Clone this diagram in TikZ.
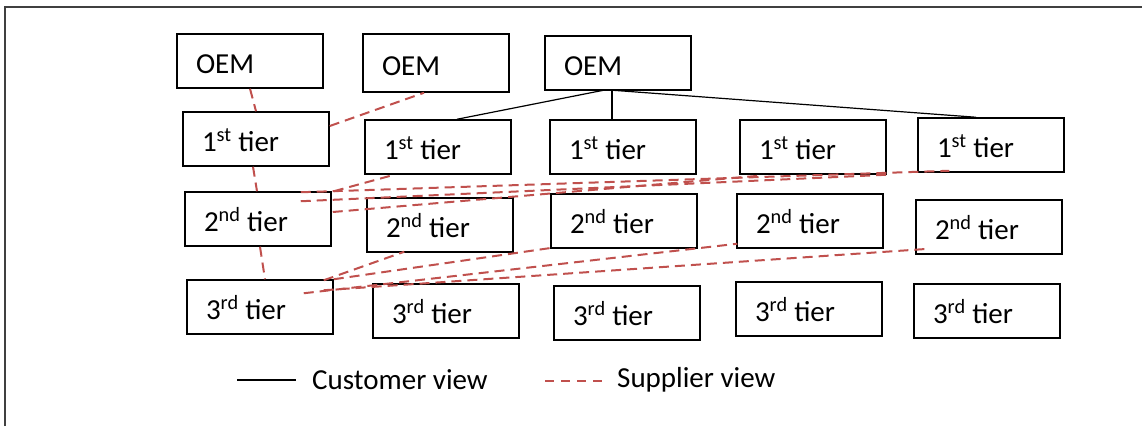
\documentclass[tikz,border=0pt]{standalone}
\usepackage{fontspec}
\setmainfont{Carlito}
\usetikzlibrary{calc}
\definecolor{suppred}{HTML}{C0504D}
\definecolor{framegray}{HTML}{404040}
\tikzset{
  tierbox/.style={draw=black, line width=1.5pt, fill=white, minimum height=54pt,
    text width=108pt, inner xsep=19pt, inner ysep=0pt, align=left,
    text height=25pt, text depth=1pt,
    font=\fontsize{29}{34}\selectfont},
  custline/.style={draw=black, line width=1.2pt},
  suppline/.style={draw=suppred, line width=2pt, dash pattern=on 10pt off 6pt},
  legendtext/.style={anchor=west, inner sep=0pt, font=\fontsize{29}{34}\selectfont}
}
\newcommand{\tiertxt}[2]{#1\textsuperscript{#2}\hspace{-3pt} tier}
\begin{document}
\begin{tikzpicture}[x=1pt, y=-1pt]
\useasboundingbox (0,0) rectangle (1142,426);
% frame (top and left edges)
\draw[framegray, line width=2pt] (5,426) -- (5,7) -- (1142,7);

% OEM row
\node[tierbox] (oem1) at (250,61) {OEM};
\node[tierbox, minimum height=58pt] (oem2) at (436,63) {OEM};
\node[tierbox] (oem3) at (618,63) {OEM};
% 1st tier row
\node[tierbox] (t1a) at (256,139) {\tiertxt{1}{st}};
\node[tierbox] (t1b) at (438,147) {\tiertxt{1}{st}};
\node[tierbox] (t1c) at (623,147) {\tiertxt{1}{st}};
\node[tierbox] (t1d) at (813,147) {\tiertxt{1}{st}};
\node[tierbox] (t1e) at (991,145) {\tiertxt{1}{st}};
% 2nd tier row
\node[tierbox] (t2a) at (258,219) {\tiertxt{2}{nd}};
\node[tierbox] (t2b) at (440,225) {\tiertxt{2}{nd}};
\node[tierbox] (t2c) at (624,221) {\tiertxt{2}{nd}};
\node[tierbox] (t2d) at (810,221) {\tiertxt{2}{nd}};
\node[tierbox] (t2e) at (989,227) {\tiertxt{2}{nd}};
% 3rd tier row
\node[tierbox] (t3a) at (260,307) {\tiertxt{3}{rd}};
\node[tierbox] (t3b) at (446,311) {\tiertxt{3}{rd}};
\node[tierbox] (t3c) at (627,313) {\tiertxt{3}{rd}};
\node[tierbox] (t3d) at (809,309) {\tiertxt{3}{rd}};
\node[tierbox] (t3e) at (987,311) {\tiertxt{3}{rd}};

% customer view: one OEM to its 1st tier suppliers
\coordinate (apex) at ($(oem3.south)+(-12,-1)$);
\draw[custline] (apex) -- ($(t1b.north)+(19,0)$);
\draw[custline] ($(oem3.south)+(-6,0)$) -- ($(t1c.north)+(-11,0)$);
\draw[custline] (apex) -- ($(t1e.north)+(-15,0)$);

% supplier view: one chain upwards
\draw[suppline] (oem1.south) -- (t1a.north);
\draw[suppline] ($(t1a.south)+(-3,0)$) -- ($(t2a.north)+(-1,0)$);
\draw[suppline] ($(t2a.south)+(2,0)$) -- ($(t3a.north)+(5,0)$);
\draw[suppline] ($(t1a.east)+(0,-13)$) -- ($(oem2.south)+(-12,0)$);
% 2nd tier supplier to 1st tier customers
\draw[suppline] ($(t2a.north east)+(2,0)$) -- ($(t1b.south west)+(30,0)$);
\draw[suppline] ($(t2a.north east)+(-31,1)$) -- ($(t1e.south west)+(32,-2)$);
\draw[suppline] ($(t2a.north east)+(-31,10)$) -- ($(t1d.south east)+(0,0)$);
\draw[suppline] ($(t2a.east)+(1,-7)$) -- ($(t1d.south west)+(20,1)$);
% 3rd tier supplier to 2nd tier customers
\draw[suppline] ($(t3a.north east)+(-10,1)$) -- ($(t2b.south west)+(38,-1)$);
\draw[suppline] ($(t3a.north east)+(0,0)$) -- ($(t2c.south west)+(2,-1)$);
\draw[suppline] ($(t3a.north east)+(-30,14)$) -- ($(t2d.south west)+(1,-5)$);
\draw[suppline] ($(t3a.north east)+(-10,11)$) -- ($(t2e.south west)+(14,-6)$);

% legend
\coordinate (lc0) at (237,380);
\coordinate (lc1) at (296,380);
\draw[custline] (lc0) -- (lc1);
\node[legendtext] (lct) at (312,380) {Customer view};
\coordinate (ls0) at (545,381);
\coordinate (ls1) at (606,381);
\draw[draw=suppred, line width=1.4pt, dash pattern=on 9pt off 7pt] (ls0) -- (ls1);
\node[legendtext] (lst) at (617,380) {Supplier view};
\end{tikzpicture}
\end{document}
